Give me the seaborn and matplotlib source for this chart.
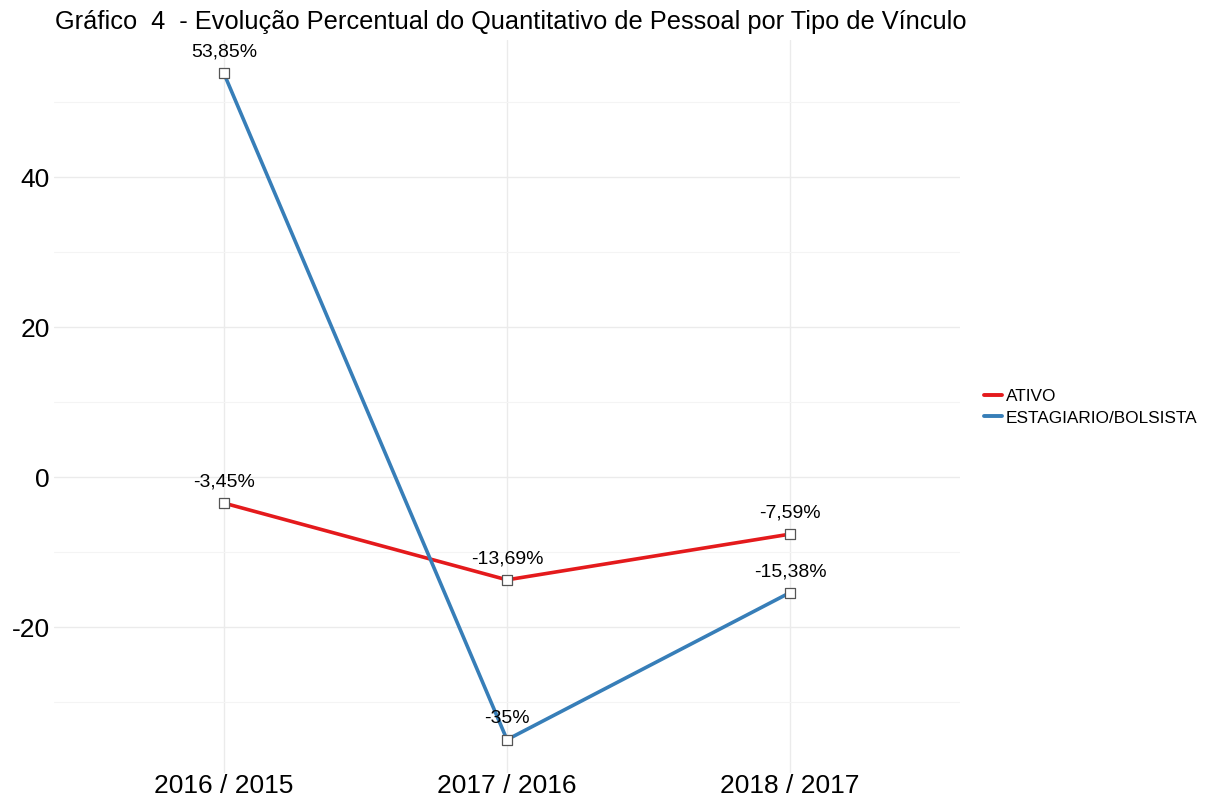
import pandas as pd
import numpy as np
import matplotlib
matplotlib.use("Agg")
import matplotlib.pyplot as plt
import seaborn as sns
from matplotlib.ticker import MultipleLocator

periods = ["2016 / 2015", "2017 / 2016", "2018 / 2017"]
ativo = [-3.45, -13.69, -7.59]
estagiario = [53.85, -35.00, -15.38]
series_names = ["ATIVO", "ESTAGIARIO/BOLSISTA"]
point_labels = {
    "ATIVO": ["-3,45%", "-13,69%", "-7,59%"],
    "ESTAGIARIO/BOLSISTA": ["53,85%", "-35%", "-15,38%"],
}
palette = {"ATIVO": "#E41A1C", "ESTAGIARIO/BOLSISTA": "#377EB8"}

df = pd.DataFrame({
    "periodo": periods * 2,
    "pos": list(range(len(periods))) * 2,
    "valor": ativo + estagiario,
    "vinculo": [series_names[0]] * 3 + [series_names[1]] * 3,
})

sns.set_style("white")
plt.rcParams["font.family"] = ["Liberation Sans", "DejaVu Sans"]
plt.rcParams["axes.unicode_minus"] = False

fig = plt.figure(figsize=(12.05, 8.01), dpi=100)
ax = fig.add_axes([54 / 1205, 1 - 773 / 801, (960 - 54) / 1205, (773 - 40) / 801])

sns.lineplot(data=df, x="pos", y="valor", hue="vinculo", palette=palette,
             linewidth=2.6, ax=ax, legend=False, sort=False)
ax.scatter(df["pos"], df["valor"], marker="s", s=55, facecolor="white",
           edgecolor="#555555", linewidth=0.9, zorder=5)

for name in series_names:
    sub = df[df["vinculo"] == name]
    for x, y, lab in zip(sub["pos"], sub["valor"], point_labels[name]):
        ax.annotate(lab, (x, y), xytext=(0, 15), textcoords="offset points",
                    ha="center", va="center", fontsize=14, color="black")

ymin, ymax = df["valor"].min(), df["valor"].max()
pad = (ymax - ymin) * 0.05
ax.set_ylim(ymin - pad, ymax + pad)
ax.set_xlim(-0.6, 2.6)
ax.set_xticks(range(len(periods)))
ax.set_xticklabels(periods)
ax.yaxis.set_major_locator(MultipleLocator(20))
ax.yaxis.set_minor_locator(MultipleLocator(10))
ax.grid(True, which="major", color="#EBEBEB", linewidth=1.0)
ax.grid(True, which="minor", axis="y", color="#F4F4F4", linewidth=0.8)
ax.set_axisbelow(True)
ax.tick_params(axis="both", which="both", length=0, labelsize=19, colors="black")
ax.tick_params(axis="x", pad=1)
ax.tick_params(axis="y", pad=3)
ax.set_xlabel("")
ax.set_ylabel("")
for s in ax.spines.values():
    s.set_visible(False)

handles = [plt.Line2D([], [], color=palette[n], linewidth=2.8) for n in series_names]
leg = fig.legend(handles, series_names, loc="center left", bbox_to_anchor=(968 / 1205, 1 - 407 / 801),
                 frameon=False, fontsize=12.4, handlelength=1.1, handletextpad=0.2, labelspacing=0.4)
for t in leg.get_texts():
    t.set_color("black")

fig.text(55 / 1205, 1 - 22 / 801, "Gráfico  4  - Evolução Percentual do Quantitativo de Pessoal por Tipo de Vínculo",
         fontsize=18.3, ha="left", va="center", color="black")

fig.savefig("out.png", dpi=100)
